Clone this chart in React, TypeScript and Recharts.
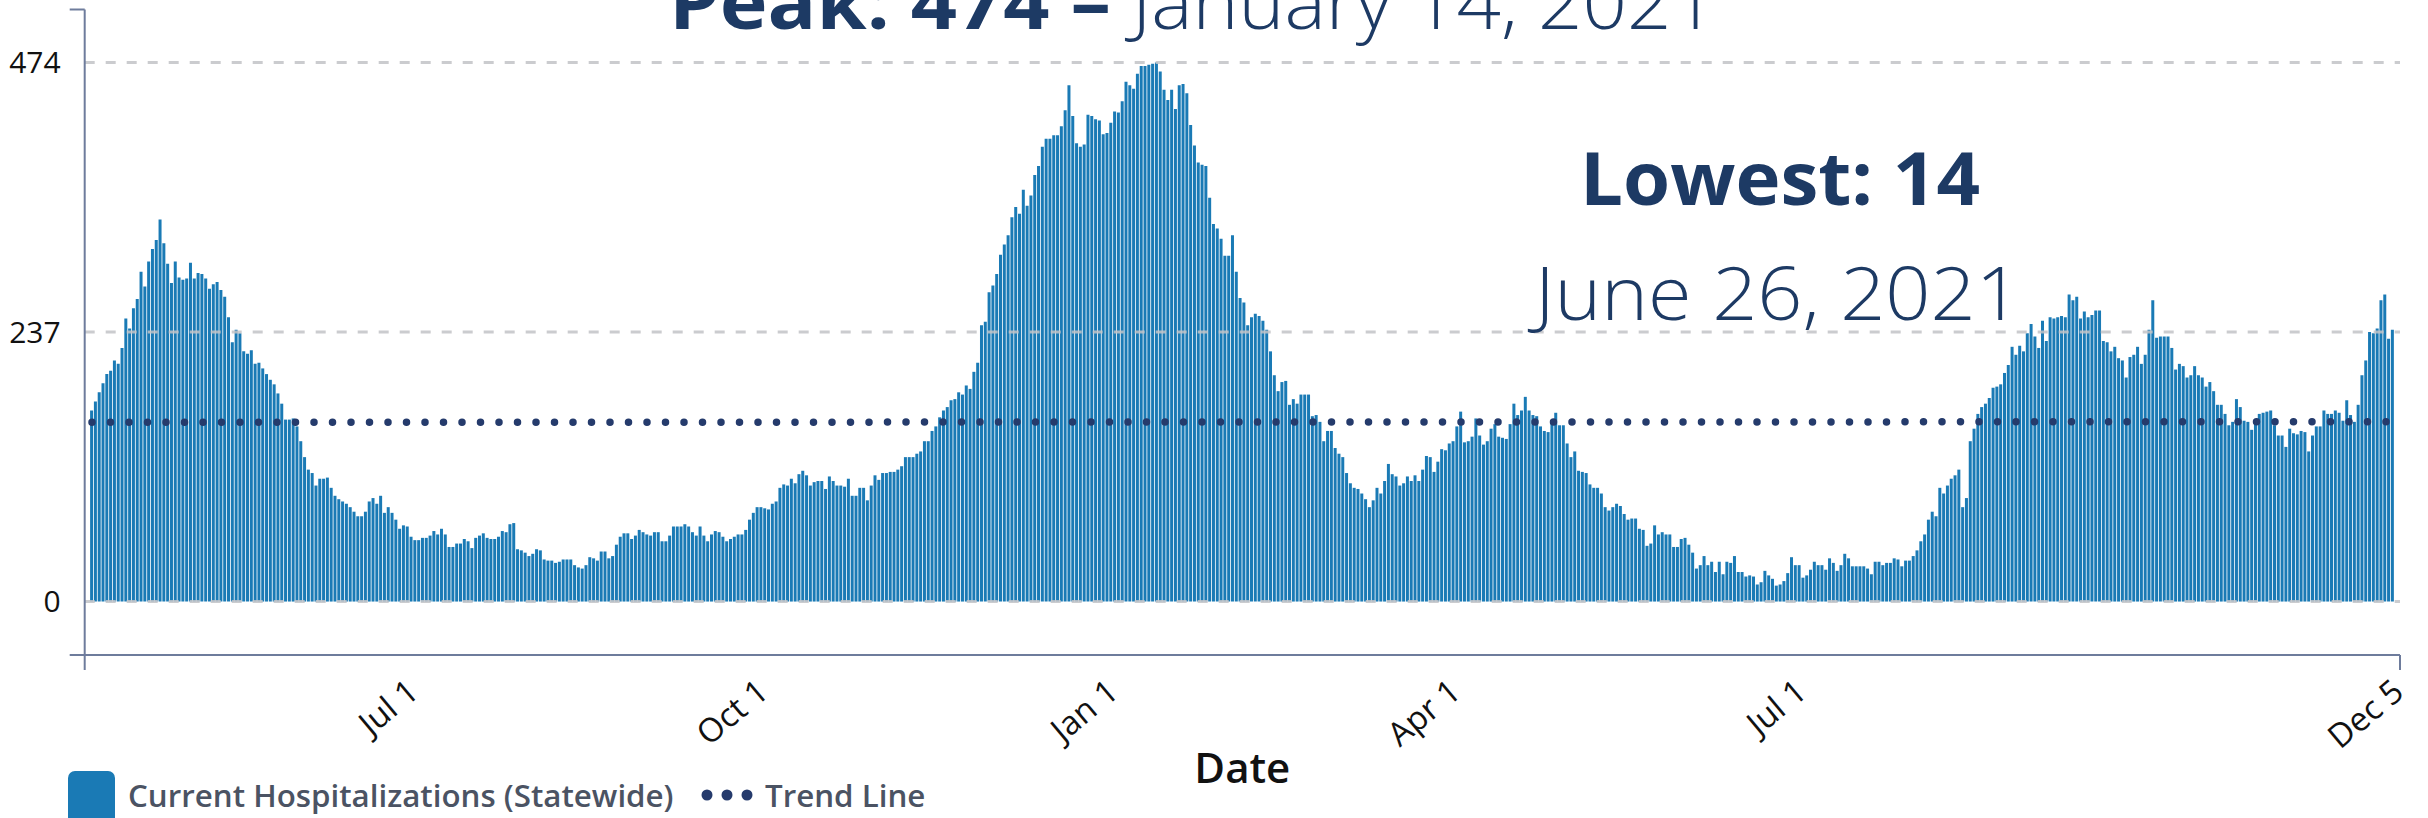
import React from 'react';
import { ComposedChart, Bar, Line, XAxis, YAxis, ReferenceLine } from 'recharts';

// Current hospitalizations (statewide), one value per day from Apr 9, 2020 to Dec 5, 2021
const HOSP_APR_JUL_2020 = [
  168, 176, 184, 192, 200, 203, 212, 209, 223, 249,
  240, 258, 266, 290, 277, 299, 310, 318, 336, 315,
  297, 280, 299, 285, 283, 284, 298, 284, 289, 288,
  284, 275, 279, 281, 274, 268, 250, 228, 239, 236,
  220, 218, 221, 209, 210, 205, 200, 195, 191, 183,
  174, 160, 160, 161, 154, 141, 127, 116, 113, 102,
  108, 108, 109, 100, 93, 90, 88, 86, 83, 79,
  75, 75, 79, 88, 91, 86, 93, 78, 83, 78,
  72, 64, 67, 66, 57, 54, 54, 56, 56, 58,
  62, 59, 64, 59, 48, 48, 51, 51, 55, 53,
];
const HOSP_JUL_OCT_2020 = [
  47, 56, 58, 60, 56, 55, 55, 57, 62, 61,
  68, 69, 46, 45, 43, 40, 42, 46, 45, 37,
  36, 36, 34, 35, 37, 37, 37, 32, 30, 29,
  32, 39, 38, 36, 44, 44, 38, 40, 50, 57,
  60, 60, 55, 58, 63, 61, 59, 58, 61, 61,
  53, 53, 58, 66, 66, 66, 68, 66, 61, 58,
  66, 58, 53, 59, 62, 61, 57, 53, 55, 57,
  59, 59, 63, 72, 78, 83, 83, 82, 81, 86,
  88, 100, 103, 102, 108, 104, 112, 115, 111, 102,
  105, 106, 106, 99, 110, 106, 102, 102, 101, 108,
];
const HOSP_OCT_2020_FEB_2021 = [
  93, 93, 100, 100, 89, 102, 111, 107, 113, 113,
  114, 114, 116, 119, 127, 127, 127, 130, 132, 141,
  141, 150, 154, 162, 168, 171, 177, 178, 184, 182,
  190, 187, 202, 210, 243, 246, 272, 278, 288, 305,
  314, 322, 338, 347, 341, 362, 348, 357, 375, 383,
  400, 407, 407, 410, 410, 418, 432, 454, 427, 403,
  400, 402, 428, 427, 424, 423, 411, 412, 421, 431,
  430, 440, 457, 454, 451, 464, 471, 471, 472, 473,
  474, 466, 450, 441, 450, 433, 454, 455, 447, 419,
  401, 386, 384, 383, 355, 332, 328, 319, 304, 304,
];
const HOSP_FEB_MAY_2021 = [
  322, 290, 267, 263, 243, 250, 253, 251, 247, 239,
  220, 199, 185, 193, 194, 173, 178, 174, 182, 182,
  182, 163, 164, 158, 141, 150, 150, 135, 130, 127,
  113, 104, 100, 99, 95, 90, 83, 89, 100, 95,
  106, 121, 112, 110, 102, 104, 110, 106, 111, 106,
  116, 128, 127, 114, 123, 134, 133, 139, 141, 154,
  167, 140, 141, 145, 161, 146, 138, 141, 152, 156,
  145, 144, 143, 156, 174, 164, 168, 180, 168, 164,
  163, 154, 150, 149, 158, 166, 155, 155, 139, 127,
  132, 115, 114, 113, 103, 100, 100, 95, 83, 80,
];
const HOSP_MAY_AUG_2021 = [
  83, 86, 84, 77, 72, 73, 73, 64, 63, 49,
  51, 67, 59, 61, 59, 59, 48, 48, 55, 56,
  50, 43, 29, 32, 40, 32, 35, 26, 35, 24,
  35, 34, 40, 26, 26, 22, 23, 22, 15, 17,
  27, 23, 20, 14, 15, 18, 25, 39, 32, 32,
  21, 23, 28, 35, 32, 32, 28, 38, 34, 27,
  32, 42, 38, 31, 31, 31, 31, 29, 24, 35,
  35, 32, 34, 34, 38, 37, 31, 36, 36, 40,
  45, 53, 59, 72, 79, 75, 100, 95, 102, 108,
  111, 116, 83, 91, 141, 152, 165, 171, 174, 179,
];
const HOSP_AUG_DEC_2021 = [
  188, 189, 191, 201, 208, 224, 217, 225, 220, 236,
  244, 233, 223, 247, 229, 250, 249, 250, 251, 250,
  270, 265, 268, 249, 255, 250, 252, 256, 256, 229,
  228, 220, 224, 214, 212, 197, 215, 217, 224, 209,
  217, 239, 265, 232, 233, 233, 233, 223, 204, 209,
  207, 197, 199, 207, 199, 197, 189, 193, 185, 173,
  173, 165, 155, 158, 178, 171, 159, 158, 151, 158,
  165, 166, 167, 168, 155, 146, 146, 136, 152, 148,
  147, 150, 149, 132, 146, 154, 154, 168, 165, 165,
  168, 166, 159, 177, 164, 158, 173, 199, 212, 237,
  236, 240, 265, 270, 231, 239,
];

const HOSPITALIZATIONS = [
  ...HOSP_APR_JUL_2020,
  ...HOSP_JUL_OCT_2020,
  ...HOSP_OCT_2020_FEB_2021,
  ...HOSP_FEB_MAY_2021,
  ...HOSP_MAY_AUG_2021,
  ...HOSP_AUG_DEC_2021,
];

const FIRST_DAY_UTC = Date.UTC(2020, 3, 9);
const TREND_START = 157.6;
const TREND_END = 158.1;

const Y_TICK_VALUES = [0, 237, 474];
const Y_DOMAIN: [number, number] = [-47, 520.6];
const X_TICK_DATES = ['2020-07-01', '2020-10-01', '2021-01-01', '2021-04-01', '2021-07-01', '2021-12-05'];
const X_TICK_LABELS = ['Jul 1', 'Oct 1', 'Jan 1', 'Apr 1', 'Jul 1', 'Dec 5'];
const X_PAD_DAYS: [number, number] = [1.92, 1.9];

const BAR_COLOR = '#1a7ab5';
const TREND_COLOR = '#253b6c';
const AXIS_COLOR = '#6e7c9c';
const GRID_COLOR = '#c2c3c7';
const TITLE_COLOR = '#1d3a64';
const FONT = '"Open Sans", "Noto Sans", sans-serif';

const DATES = HOSPITALIZATIONS.map((_, i) =>
  new Date(FIRST_DAY_UTC + i * 86400000).toISOString().slice(0, 10)
);
const LAST = HOSPITALIZATIONS.length - 1;
const data = HOSPITALIZATIONS.map((v, i) => ({
  idx: i,
  date: DATES[i],
  hosp: v,
  trend: i === 0 ? TREND_START : i === LAST ? TREND_END : null,
}));

const X_TICK_INDEX = X_TICK_DATES.map((d) => DATES.indexOf(d));
const X_DOMAIN: [number, number] = [-X_PAD_DAYS[0], LAST + X_PAD_DAYS[1]];
const X_TICKS = [X_DOMAIN[0], ...X_TICK_INDEX, X_DOMAIN[1]];
const Y_TICKS = [Y_DOMAIN[0], ...Y_TICK_VALUES, Y_DOMAIN[1]];

const Y_TICK_SIZE = 15;
const Y_TICK_MARGIN = 9;

const YTick = (props: any) => {
  const { x, y, payload } = props;
  const v = payload.value;
  if (!Y_TICK_VALUES.includes(v)) {
    return (
      <line
        x1={x + Y_TICK_MARGIN}
        x2={x + Y_TICK_MARGIN + Y_TICK_SIZE}
        y1={y}
        y2={y}
        stroke={AXIS_COLOR}
        strokeWidth={2}
      />
    );
  }
  return (
    <text x={x} y={y} dy="0.36em" textAnchor="end" fontSize={30} fill="#111" fontFamily={FONT}>
      {v}
    </text>
  );
};

const XTick = (props: any) => {
  const { x, y, payload } = props;
  const k = X_TICK_INDEX.indexOf(payload.value);
  if (k < 0) {
    return <line x1={x} x2={x} y1={y - 15} y2={y} stroke={AXIS_COLOR} strokeWidth={2} />;
  }
  const ax = x + 13;
  const ay = y + 25;
  return (
    <text
      x={ax}
      y={ay}
      transform={`rotate(-40, ${ax}, ${ay})`}
      textAnchor="end"
      fontSize={33}
      fill="#111"
      fontFamily={FONT}
    >
      {X_TICK_LABELS[k]}
    </text>
  );
};

export default function App() {
  return (
    <div style={{ position: 'absolute', left: 0, top: 0, width: 2428, height: 818, background: '#fff', overflow: 'hidden' }}>
      <ComposedChart
        width={2428}
        height={818}
        data={data}
        margin={{ top: 9.5, right: 28, bottom: 0, left: 0 }}
      >
        <XAxis
          dataKey="idx"
          type="number"
          domain={X_DOMAIN}
          ticks={X_TICKS}
          interval={0}
          allowDataOverflow
          height={163}
          tickSize={15}
          tickMargin={0}
          tickLine={false}
          tick={<XTick />}
          axisLine={{ stroke: AXIS_COLOR, strokeWidth: 2 }}
          label={{ value: 'Date', position: 'insideBottom', offset: 35, fontSize: 42, fontWeight: 600, fill: '#111', fontFamily: FONT }}
        />
        <YAxis
          type="number"
          domain={Y_DOMAIN}
          ticks={Y_TICKS}
          interval={0}
          allowDataOverflow
          width={84.7}
          tickSize={Y_TICK_SIZE}
          tickMargin={Y_TICK_MARGIN}
          tickLine={false}
          tick={<YTick />}
          axisLine={{ stroke: AXIS_COLOR, strokeWidth: 2 }}
        />
        <Bar dataKey="hosp" fill={BAR_COLOR} barSize={3} isAnimationActive={false} />
        {Y_TICK_VALUES.map((v) => (
          <ReferenceLine
            key={v}
            y={v}
            stroke={GRID_COLOR}
            strokeOpacity={0.85}
            strokeWidth={3}
            strokeDasharray="10 11"
          />
        ))}
        <Line
          dataKey="trend"
          connectNulls
          stroke={TREND_COLOR}
          strokeWidth={7.5}
          strokeLinecap="round"
          strokeDasharray="0 18.5"
          dot={false}
          activeDot={false}
          isAnimationActive={false}
        />
      </ComposedChart>
      <svg
        width={2428}
        height={818}
        style={{ position: 'absolute', left: 0, top: 0, pointerEvents: 'none' }}
      >
        <text x={669} y={29} fontSize={74} fontWeight={700} fill={TITLE_COLOR} fontFamily={FONT} textLength={442} lengthAdjust="spacingAndGlyphs">
          Peak: 474 –
        </text>
        <text x={1132} y={29} fontSize={74} fontWeight={300} fill={TITLE_COLOR} fontFamily={FONT} textLength={584} lengthAdjust="spacingAndGlyphs">
          January 14, 2021
        </text>
        <text x={1580} y={205} fontSize={74} fontWeight={700} fill={TITLE_COLOR} fontFamily={FONT} textLength={400} lengthAdjust="spacingAndGlyphs">
          Lowest: 14
        </text>
        <text x={1535} y={320} fontSize={74} fontWeight={300} fill={TITLE_COLOR} fontFamily={FONT} textLength={486} lengthAdjust="spacingAndGlyphs">
          June 26, 2021
        </text>
        <rect x={68} y={771} width={47} height={54} rx={7} fill={BAR_COLOR} />
        <text x={128} y={807} fontSize={31.3} fontWeight={600} fill="#4b5363" fontFamily={FONT}>
          Current Hospitalizations (Statewide)
        </text>
        <circle cx={707} cy={795} r={5.5} fill={TREND_COLOR} />
        <circle cx={727} cy={795} r={5.5} fill={TREND_COLOR} />
        <circle cx={747} cy={795} r={5.5} fill={TREND_COLOR} />
        <text x={765} y={807} fontSize={31.3} fontWeight={600} fill="#4b5363" fontFamily={FONT}>
          Trend Line
        </text>
      </svg>
    </div>
  );
}
